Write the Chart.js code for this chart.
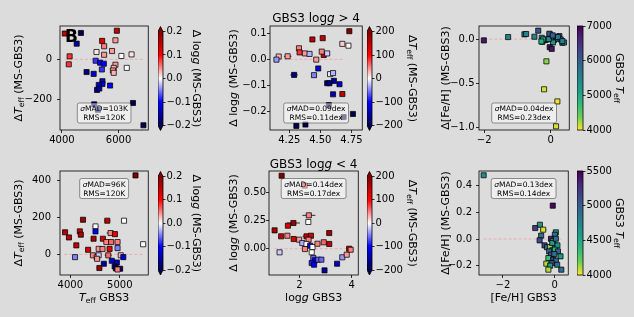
<!DOCTYPE html>
<html>
<head>
<meta charset="utf-8">
<script src="https://cdn.jsdelivr.net/npm/chart.js@4.4.1/dist/chart.umd.min.js"></script>
<style>
  html, body { margin: 0; padding: 0; background: #dcdcdc; }
  #fig { position: relative; width: 634px; height: 317px; overflow: hidden; background: #dcdcdc; }
  #fig canvas { position: absolute; }
</style>
</head>
<body>
<div id="fig"></div>
<script>
// ---- GBS3 logg > 4 (dwarfs) ----
const dwTeff = [4100, 4670, 4520, 5940, 5420, 5890, 5490, 5220, 5490, 5770, 6100, 6460, 4270, 4240, 5190, 5350, 5480, 5890, 5830, 5800,
  5830, 6290, 5410, 4870, 5120, 5430, 5430, 5300, 5700, 5240, 5320, 5140, 5270, 6510, 6880];
const dwDTeff = [130, 133, 79, 144, 93, 96, 66, 37, 23, 42, 17, 25, 15, -25, -7, -17, -22, -27, -43, -56,
  -68, -43, -51, -64, -73, -110, -124, -129, -132, -154, -147, -227, -254, -220, -332];
const dwDLoggCol = [0.15, -0.2, -0.15, 0.15, 0.12, 0.04, 0.05, 0.01, 0.04, 0.04, 0.0, 0.01, 0.08, 0.08, -0.08, -0.1, -0.1, 0.04, 0.03, 0.04,
  0.03, 0.0, -0.08, -0.17, -0.13, -0.12, -0.13, -0.13, -0.1, -0.16, -0.15, -0.17, -0.17, -0.2, -0.2];
const dwTeffErr = [0, 0, 0, 0, 0, 0, 0, 0, 0, 0, 0, 70, 0, 0, 0, 0, 0, 0, 0, 0,
  0, 0, 0, 0, 0, 0, 0, 0, 0, 0, 0, 0, 0, 0, 0];

const dwLogg = [4.733, 4.436, 4.519, 4.677, 4.726, 4.328, 4.333, 4.376, 4.413, 4.527, 4.511, 4.555, 4.237, 4.165, 4.147, 4.467,
  4.483, 4.289, 4.449, 4.578, 4.602, 4.609, 4.555, 4.573, 4.654, 4.602, 4.677, 4.568, 4.762, 4.687, 4.307, 4.380];
const dwDLogg = [0.109, 0.077, 0.082, 0.060, 0.053, 0.043, 0.027, 0.023, 0.021, 0.017, 0.030, 0.023, 0.012, 0.011, -0.001, -0.001,
  -0.035, -0.060, -0.061, -0.057, -0.053, -0.083, -0.092, -0.092, -0.096, -0.135, -0.134, -0.177, -0.211, -0.223, -0.257, -0.252];
const dwDTeffCol = [200, 150, 150, 20, 5, 50, 80, 40, -30, 150, 50, -20, 40, 30, -40, 40,
  -120, -170, -50, -10, -30, -150, -170, -170, -130, -140, 150, -200, -200, -200, -200, -200];
const dwLoggErr = [0, 0, 0, 0.02, 0, 0.015, 0, 0, 0, 0, 0, 0.02, 0.03, 0, 0, 0,
  0.015, 0.03, 0.01, 0, 0, 0, 0, 0, 0, 0, 0, 0, 0, 0, 0, 0];

const dwFeH = [-2.01, -1.28, -0.79, -0.74, -0.49, -0.375, -0.27, -0.25, -0.17, -0.11, -0.03, 0.01, 0.07, 0.10, 0.16, 0.20, 0.26,
  0.30, 0.35, 0.40, 0.07, -0.06, -0.04, 0.06, 0.22, 0.35, -0.23, -0.28, -0.03, 0.03, -0.13, -0.20, 0.20, 0.16];
const dwDFeH = [-0.015, 0.023, 0.054, 0.058, 0.027, 0.096, 0.015, -0.031, -0.011, -0.004, 0.054, 0.027, 0.020, -0.011, 0.020, 0.004, 0.034,
  -0.004, -0.042, -0.038, -0.038, 0.000, 0.061, 0.042, 0.023, -0.023, -0.004, -0.027, -0.092, -0.111, -0.253, -0.571, -0.709, -0.992];
const dwTeffCol = [6800, 5500, 5600, 5500, 5500, 6100, 5400, 4900, 5300, 5600, 6000, 5800, 5700, 5500, 5800, 5600, 5900,
  5500, 5600, 5400, 5300, 5500, 6100, 5900, 5700, 5500, 4900, 4900, 6800, 6800, 4300, 4100, 4050, 4100];
const dwFeHErr = [0, 0, 0, 0, 0, 0, 0, 0, 0, 0, 0, 0, 0, 0, 0, 0, 0,
  0, 0, 0, 0, 0, 0, 0, 0, 0, 0, 0, 0, 0, 0.05, 0.05, 0.05, 0.05];

// ---- GBS3 logg < 4 (giants) ----
const gtTeff = [5316, 4257, 4747, 5084, 3895, 3973, 4193, 4213, 4509, 4509, 4813, 4902, 4470, 4658, 4728, 4825, 4954, 4122, 4360, 4573,
  4650, 4793, 4954, 5470, 4096, 4457, 4534, 4573, 4766, 5018, 5070, 4838, 4677, 4940, 4896, 4921, 5006, 4587, 4954, 4542];
const gtDTeff = [429, 188, 183, 183, 120, 92, 125, 107, 152, 125, 116, 110, 85, 85, 67, 67, 67, 49, 25, 30,
  29, 30, 34, 55, -15, -5, -16, -5, -5, -5, -15, -35, -51, -44, -65, -76, -78, -74, -82, -24];
const gtDLoggCol = [0.2, 0.18, 0.15, 0.0, 0.16, 0.15, 0.14, 0.17, 0.0, -0.1, 0.05, 0.12, 0.17, 0.13, 0.05, 0.06, 0.05, 0.15, 0.13, 0.04,
  0.05, 0.12, -0.05, 0.0, -0.05, 0.05, 0.04, -0.02, 0.06, 0.03, -0.12, -0.12, -0.15, -0.13, -0.18, -0.18, -0.18, 0.18, 0.05, 0.04];
const gtTeffErr = [0, 0, 60, 50, 0, 0, 0, 0, 60, 0, 80, 0, 0, 50, 0, 50, 0, 40, 50, 0,
  0, 0, 0, 0, 0, 0, 0, 0, 70, 0, 0, 0, 50, 0, 0, 0, 0, 50, 0, 0];

const gtLogg = [1.32, 2.36, 2.34, 1.77, 1.56, 1.05, 1.30, 1.54, 1.78, 1.99, 2.27, 2.44, 2.35, 2.11, 2.27, 2.41, 2.50, 2.69, 2.93,
  3.14, 3.14, 1.24, 2.47, 2.53, 2.59, 2.47, 2.56, 2.72, 2.84, 2.96, 3.44, 3.64, 3.81, 3.90, 3.96, 2.21, 2.20];
const gtDLogg = [0.647, 0.296, 0.237, 0.228, 0.204, 0.163, 0.110, 0.115, 0.086, 0.080, 0.110, 0.115, 0.080, 0.050, 0.042, 0.027, 0.015, 0.044, 0.057,
  0.042, 0.139, -0.032, -0.032, -0.082, -0.103, -0.127, -0.142, -0.097, -0.097, -0.192, -0.133, -0.076, -0.053, 0.000, -0.009, -0.003, 0.560];
const gtDTeffCol = [200, 50, 0, 180, 130, 170, 150, 50, 130, 40, 150, 140, 50, -30, 0, -100, 0, 50, 60,
  150, 180, -20, 0, -60, -100, -90, -100, -60, -60, -150, -130, -40, 40, 130, 50, 50, 80];
const gtLoggErr = [0, 0.25, 0, 0.25, 0, 0, 0, 0, 0, 0, 0.15, 0, 0, 0, 0, 0, 0, 0, 0,
  0, 0, 0, 0, 0, 0, 0, 0, 0, 0, 0, 0, 0, 0, 0, 0, 0, 0];

const gtFeH = [-2.75, -0.07, -0.57, -0.75, -0.44, 0.05, 0.01, -0.52, -0.58, -0.14, -0.07, -0.39, -0.29, -0.17, 0.01, 0.11, -0.09,
  0.01, 0.13, -0.21, -0.14, -0.01, 0.23, -0.24, -0.05, 0.05, -0.11, -0.32, 0.10, -0.17, -0.24, 0.26, -0.09, 0.05];
const gtDFeH = [0.478, 0.25, 0.107, 0.082, 0.07, 0.05, 0.032, 0.025, -0.01, 0.002, -0.018, -0.048, -0.062, -0.06, -0.048, -0.048, -0.085,
  -0.08, -0.093, -0.093, -0.117, -0.113, -0.13, -0.143, -0.155, -0.163, -0.18, -0.185, -0.193, -0.2, -0.23, -0.23, -0.03, 0.002];
const gtTeffCol = [4700, 5450, 4600, 5200, 4050, 4600, 4850, 4850, 5100, 5400, 4350, 5150, 4900, 4100, 4900, 4600, 4900,
  4400, 4950, 4900, 5100, 4900, 4600, 4350, 5100, 4900, 5100, 4100, 4900, 4600, 4100, 4900, 4600, 4900];
const gtFeHErr = [0, 0.08, 0, 0.05, 0.12, 0, 0, 0, 0, 0, 0, 0, 0, 0, 0, 0, 0,
  0, 0, 0, 0, 0, 0, 0, 0, 0, 0, 0, 0, 0, 0, 0, 0, 0];

// zero reference lines (x extent)
const dwTeffZero = [4100, 6880];
const dwLoggZero = [4.13, 4.69];
const dwFeHZero = [-2.0, 0.2];
const gtTeffZero = [3880, 5470];
const gtLoggZero = [1.05, 4.0];
const gtFeHZero = [-2.75, 0.3];

// axis limits
const dwTeffLim = [3930, 7050], dwDTeffLim = [-356, 168];
const dwLoggLim = [4.095, 4.837], dwDLoggLim = [-0.273, 0.129];
const dwFeHLim = [-2.156, 0.557], dwDFeHLim = [-1.034, 0.149];
const gtTeffLim = [3793, 5573], gtDTeffLim = [-112, 453];
const gtLoggLim = [0.836, 4.25], gtDLoggLim = [-0.233, 0.689];
const gtFeHLim = [-2.93, 0.53], gtDFeHLim = [-0.27, 0.51];

// tick labels
const dwTeffTicks = [4000, 6000], dwDTeffTicks = [-200, 0];
const dwLoggTicks = [4.25, 4.5, 4.75], dwDLoggTicks = [-0.2, -0.1, 0, 0.1];
const dwFeHTicks = [-2, 0], dwDFeHTicks = [-1, -0.5, 0];
const gtTeffTicks = [4000, 5000], gtDTeffTicks = [0, 200, 400];
const gtLoggTicks = [2, 4], gtDLoggTicks = [0, 0.25, 0.5];
const gtFeHTicks = [-2, 0], gtDFeHTicks = [-0.2, 0, 0.2, 0.4];
const cbLoggTicks = [-0.2, -0.1, 0, 0.1, 0.2];
const cbDTeffTicks = [-200, -100, 0, 100, 200];
const cbTeffDwTicks = [4000, 5000, 6000, 7000];
const cbTeffGtTicks = [4000, 4500, 5000, 5500];

// stats boxes
const statsDwTeff = ['σMAD=103K', 'RMS=120K'];
const statsDwLogg = ['σMAD=0.09dex', 'RMS=0.11dex'];
const statsDwFeH = ['σMAD=0.04dex', 'RMS=0.23dex'];
const statsGtTeff = ['σMAD=96K', 'RMS=120K'];
const statsGtLogg = ['σMAD=0.14dex', 'RMS=0.17dex'];
const statsGtFeH = ['σMAD=0.13dex', 'RMS=0.14dex'];

const FAM = '"DejaVu Sans", sans-serif';
const TICK_FONT = { family: FAM, size: 10 };
const LABEL = 11;
const STAT = 7.5;

function lerpStops(stops, t) {
  t = Math.max(0, Math.min(1, t));
  for (let i = 1; i < stops.length; i++) {
    if (t <= stops[i][0]) {
      const [t0, c0] = stops[i - 1], [t1, c1] = stops[i];
      const f = (t - t0) / (t1 - t0);
      return 'rgb(' + c0.map((c, k) => Math.round(c + (c1[k] - c) * f)).join(',') + ')';
    }
  }
}
const SEISMIC = [[0, [0, 0, 77]], [0.25, [0, 0, 255]], [0.5, [255, 255, 255]], [0.75, [255, 0, 0]], [1, [128, 0, 0]]];
const VIRIDIS = [[0, [68, 1, 84]], [0.125, [72, 40, 120]], [0.25, [62, 73, 137]], [0.375, [49, 104, 142]], [0.5, [38, 130, 142]],
  [0.625, [31, 158, 137]], [0.75, [53, 183, 121]], [0.875, [110, 206, 88]], [1, [253, 231, 37]]];
const seismic = t => lerpStops(SEISMIC, t);
const viridisR = t => lerpStops(VIRIDIS, 1 - t);

function drawRich(ctx, segs, x, y, size, rot) {
  ctx.save();
  ctx.translate(x, y);
  ctx.rotate(rot || 0);
  ctx.fillStyle = '#000';
  ctx.textBaseline = 'alphabetic';
  ctx.textAlign = 'left';
  const parts = segs.map(s => {
    const fs = s.sub ? size * 0.7 : size;
    const font = (s.it ? 'italic ' : '') + (s.bold ? 'bold ' : '') + fs + 'px ' + FAM;
    ctx.font = font;
    return { t: s.t, font, w: ctx.measureText(s.t).width, dy: s.sub ? size * 0.22 : 0 };
  });
  let cx = -parts.reduce((a, p) => a + p.w, 0) / 2;
  parts.forEach(p => { ctx.font = p.font; ctx.fillText(p.t, cx, size * 0.36 + p.dy); cx += p.w; });
  ctx.restore();
}
const richLine = s => s.startsWith('σ') ? [{ t: 'σ', it: true }, { t: s.slice(1) }] : [{ t: s }];

const segDTeff = [{ t: 'Δ' }, { t: 'T', it: true }, { t: 'eff', sub: true }, { t: ' (MS-GBS3)' }];
const segDLogg = [{ t: 'Δ log' }, { t: 'g', it: true }, { t: ' (MS-GBS3)' }];
const segDFeH = [{ t: 'Δ[Fe/H] (MS-GBS3)' }];
const segTeff = [{ t: 'T', it: true }, { t: 'eff', sub: true }, { t: ' GBS3' }];
const segLogg = [{ t: 'log' }, { t: 'g', it: true }, { t: ' GBS3' }];
const segFeH = [{ t: '[Fe/H] GBS3' }];
const segTeffCb = [{ t: 'GBS3 ' }, { t: 'T', it: true }, { t: 'eff', sub: true }];

const fixedTicks = vals => s => { s.ticks = vals.map(v => ({ value: v })); };
const fmt = d => v => v.toFixed(d).replace('-', '\u2212');

function addCanvas(c) {
  const cv = document.createElement('canvas');
  cv.width = c[2]; cv.height = c[3];
  cv.style.left = c[0] + 'px'; cv.style.top = c[1] + 'px';
  document.getElementById('fig').appendChild(cv);
  return cv;
}

function scatterPanel(p) {
  const [cl, ct, cw, ch] = p.canvas;
  const [fl, ft, fr, fb] = p.frame;
  const cv = addCanvas(p.canvas);
  const [c0, c1] = p.crange;
  const cols = p.cs.map(v => p.cmap((v - c0) / (c1 - c0)));
  const axisCommon = { type: 'linear', border: { display: false },
    grid: { drawOnChartArea: false, tickLength: 3, color: '#000', lineWidth: 0.8 } };
  new Chart(cv, {
    type: 'scatter',
    data: {
      datasets: [
        { data: p.xs.map((x, i) => ({ x, y: p.ys[i] })), pointStyle: 'rect', pointRadius: 3.6,
          pointBackgroundColor: cols, pointBorderColor: '#000', pointBorderWidth: 0.75 },
        { type: 'line', data: p.zero.map(x => ({ x, y: 0 })), borderColor: 'rgba(255,110,130,0.45)',
          borderWidth: 1, borderDash: [3, 2], pointRadius: 0 }
      ]
    },
    options: {
      responsive: false, animation: false, events: [],
      layout: { padding: { left: 0, top: ft - ct, right: cl + cw - fr, bottom: 0 } },
      plugins: { legend: { display: false }, tooltip: { enabled: false } },
      scales: {
        x: { ...axisCommon, min: p.xlim[0], max: p.xlim[1],
          afterFit: s => { s.height = ct + ch - fb; s.paddingLeft = 0; s.paddingRight = 0; },
          afterBuildTicks: fixedTicks(p.xt),
          ticks: { font: TICK_FONT, color: '#000', padding: 1, maxRotation: 0, minRotation: 0, autoSkip: false, callback: fmt(p.xd) } },
        y: { ...axisCommon, min: p.ylim[0], max: p.ylim[1],
          afterFit: s => { s.width = fl - cl; s.paddingTop = 0; s.paddingBottom = 0; },
          afterBuildTicks: fixedTicks(p.yt),
          ticks: { font: TICK_FONT, color: '#000', padding: p.ypad, autoSkip: false, callback: fmt(p.yd) } }
      }
    },
    plugins: [{
      id: 'decor',
      beforeDatasetsDraw(chart) {
        const { ctx, scales: { x, y } } = chart;
        ctx.save();
        ctx.strokeStyle = '#000';
        ctx.lineWidth = 0.8;
        p.xs.forEach((xv, i) => {
          const e = p.err[i];
          if (!e) return;
          const py = y.getPixelForValue(p.ys[i]);
          ctx.beginPath();
          ctx.moveTo(x.getPixelForValue(xv - e), py);
          ctx.lineTo(x.getPixelForValue(xv + e), py);
          ctx.stroke();
        });
        ctx.restore();
      },
      afterDatasetsDraw(chart) {
        const { ctx, chartArea: a } = chart;
        ctx.save();
        ctx.strokeStyle = '#000';
        ctx.lineWidth = 0.8;
        ctx.strokeRect(a.left, a.top, a.right - a.left, a.bottom - a.top);
        // stats box
        ctx.font = STAT + 'px ' + FAM;
        const w = Math.max(...p.stats.map(s => ctx.measureText(s).width)) + 6;
        const h = 20;
        const bx = (a.left + a.right) / 2 - w / 2;
        const by = p.statsAt === 'bottom' ? a.bottom - 7 - h : a.top + 7.5;
        ctx.beginPath();
        ctx.roundRect(bx, by, w, h, 2);
        ctx.fillStyle = 'rgba(255,255,255,0.5)';
        ctx.fill();
        ctx.strokeStyle = 'rgba(0,0,0,0.5)';
        ctx.stroke();
        ctx.restore();
        p.stats.forEach((s, i) => drawRich(ctx, richLine(s), (a.left + a.right) / 2, by + 5.6 + i * 8.9, STAT, 0));
        if (p.letter) {
          ctx.save();
          ctx.font = 'bold 17px ' + FAM;
          ctx.fillStyle = '#000';
          ctx.fillText(p.letter, 65 - cl, 42 - ct);
          ctx.restore();
        }
      },
      afterDraw(chart) {
        const { ctx, chartArea: a } = chart;
        const midX = (a.left + a.right) / 2, midY = (a.top + a.bottom) / 2;
        drawRich(ctx, p.yTitle, p.yTitleX - cl, midY, LABEL, -Math.PI / 2);
        if (p.xTitle) drawRich(ctx, p.xTitle, midX, 297 - ct, LABEL, 0);
        if (p.title) drawRich(ctx, p.title, midX, p.titleY - ct, 12, 0);
      }
    }]
  });
}

function colorBar(c) {
  const [cl, ct, cw, ch] = c.canvas;
  const [bl, bt, br, bb] = c.bar;
  const cv = addCanvas(c.canvas);
  const [r0, r1] = c.range;
  new Chart(cv, {
    type: 'scatter',
    data: { datasets: [{ data: [] }] },
    options: {
      responsive: false, animation: false, events: [],
      layout: { padding: { left: bl - cl, top: bt - ct, right: 0, bottom: ct + ch - bb } },
      plugins: { legend: { display: false }, tooltip: { enabled: false } },
      scales: {
        x: { display: false, min: 0, max: 1 },
        y: { position: 'right', min: r0, max: r1, border: { display: false },
          afterFit: s => { s.width = cl + cw - br; s.paddingTop = 0; s.paddingBottom = 0; },
          afterBuildTicks: fixedTicks(c.ticks),
          ticks: { font: TICK_FONT, color: '#000', padding: 1, autoSkip: false, callback: fmt(c.dec) },
          grid: { drawOnChartArea: false, tickLength: 2.5, color: '#000', lineWidth: 0.8 } }
      }
    },
    plugins: [{
      id: 'cbar',
      afterDraw(chart) {
        const { ctx, chartArea: a, scales: { y } } = chart;
        ctx.save();
        for (let py = Math.floor(a.top); py < Math.ceil(a.bottom); py++) {
          const v = y.getValueForPixel(py + 0.5);
          ctx.fillStyle = c.cmap((v - r0) / (r1 - r0));
          ctx.fillRect(a.left, py, a.right - a.left, 1);
        }
        const mid = (a.left + a.right) / 2;
        ctx.beginPath();
        if (c.ext) {
          ctx.fillStyle = c.cmap(1);
          ctx.beginPath(); ctx.moveTo(a.left, a.top); ctx.lineTo(mid, a.top - c.ext); ctx.lineTo(a.right, a.top); ctx.closePath(); ctx.fill();
          ctx.fillStyle = c.cmap(0);
          ctx.beginPath(); ctx.moveTo(a.left, a.bottom); ctx.lineTo(mid, a.bottom + c.ext); ctx.lineTo(a.right, a.bottom); ctx.closePath(); ctx.fill();
          ctx.beginPath();
          ctx.moveTo(a.left, a.top); ctx.lineTo(mid, a.top - c.ext); ctx.lineTo(a.right, a.top);
          ctx.lineTo(a.right, a.bottom); ctx.lineTo(mid, a.bottom + c.ext); ctx.lineTo(a.left, a.bottom); ctx.closePath();
        } else {
          ctx.rect(a.left, a.top, a.right - a.left, a.bottom - a.top);
        }
        ctx.strokeStyle = '#000';
        ctx.lineWidth = 0.8;
        ctx.stroke();
        ctx.restore();
        drawRich(ctx, c.title, c.titleX - cl, (a.top + a.bottom) / 2, LABEL, Math.PI / 2);
      }
    }]
  });
}

const LOGG_RANGE = [-0.2, 0.2], DTEFF_RANGE = [-200, 200];

scatterPanel({ canvas: [0, 0, 153, 150], frame: [60, 26, 152, 130], xs: dwTeff, ys: dwDTeff, cs: dwDLoggCol, err: dwTeffErr,
  cmap: seismic, crange: LOGG_RANGE, xlim: dwTeffLim, ylim: dwDTeffLim, xt: dwTeffTicks, yt: dwDTeffTicks, xd: 0, yd: 0, ypad: 5,
  zero: dwTeffZero, stats: statsDwTeff, statsAt: 'bottom', yTitle: segDTeff, yTitleX: 18, letter: 'B' });
scatterPanel({ canvas: [222, 0, 145, 150], frame: [270, 26, 366, 130], xs: dwLogg, ys: dwDLogg, cs: dwDTeffCol, err: dwLoggErr,
  cmap: seismic, crange: DTEFF_RANGE, xlim: dwLoggLim, ylim: dwDLoggLim, xt: dwLoggTicks, yt: dwDLoggTicks, xd: 2, yd: 1, ypad: 0.5,
  zero: dwLoggZero, stats: statsDwLogg, statsAt: 'bottom', yTitle: segDLogg, yTitleX: 233,
  title: [{ t: 'GBS3 log' }, { t: 'g', it: true }, { t: ' > 4' }], titleY: 18 });
scatterPanel({ canvas: [430, 0, 144, 150], frame: [479, 26, 573, 130], xs: dwFeH, ys: dwDFeH, cs: dwTeffCol, err: dwFeHErr,
  cmap: viridisR, crange: [4000, 7000], xlim: dwFeHLim, ylim: dwDFeHLim, xt: dwFeHTicks, yt: dwDFeHTicks, xd: 0, yd: 1, ypad: 1.5,
  zero: dwFeHZero, stats: statsDwFeH, statsAt: 'bottom', yTitle: segDFeH, yTitleX: 445 });

scatterPanel({ canvas: [0, 145, 153, 172], frame: [60, 171, 152, 275], xs: gtTeff, ys: gtDTeff, cs: gtDLoggCol, err: gtTeffErr,
  cmap: seismic, crange: LOGG_RANGE, xlim: gtTeffLim, ylim: gtDTeffLim, xt: gtTeffTicks, yt: gtDTeffTicks, xd: 0, yd: 0, ypad: 6,
  zero: gtTeffZero, stats: statsGtTeff, statsAt: 'top', yTitle: segDTeff, yTitleX: 18, xTitle: segTeff });
scatterPanel({ canvas: [222, 145, 141, 172], frame: [269, 171, 362, 275], xs: gtLogg, ys: gtDLogg, cs: gtDTeffCol, err: gtLoggErr,
  cmap: seismic, crange: DTEFF_RANGE, xlim: gtLoggLim, ylim: gtDLoggLim, xt: gtLoggTicks, yt: gtDLoggTicks, xd: 0, yd: 2, ypad: 0,
  zero: gtLoggZero, stats: statsGtLogg, statsAt: 'top', yTitle: segDLogg, yTitleX: 233, xTitle: segLogg,
  title: [{ t: 'GBS3 log' }, { t: 'g', it: true }, { t: ' < 4' }], titleY: 164 });
scatterPanel({ canvas: [430, 145, 143, 172], frame: [479, 171, 572, 275], xs: gtFeH, ys: gtDFeH, cs: gtTeffCol, err: gtFeHErr,
  cmap: viridisR, crange: [4000, 5500], xlim: gtFeHLim, ylim: gtDFeHLim, xt: gtFeHTicks, yt: gtDFeHTicks, xd: 0, yd: 1, ypad: 4,
  zero: gtFeHZero, stats: statsGtFeH, statsAt: 'top', yTitle: segDFeH, yTitleX: 445, xTitle: segFeH });

colorBar({ canvas: [158, 0, 52, 150], bar: [158, 31.5, 163, 125.5], ext: 5, range: LOGG_RANGE, ticks: cbLoggTicks, dec: 1,
  cmap: seismic, title: segDLogg, titleX: 197 });
colorBar({ canvas: [367, 0, 58, 150], bar: [367, 31.5, 372, 125.5], ext: 5, range: DTEFF_RANGE, ticks: cbDTeffTicks, dec: 0,
  cmap: seismic, title: segDTeff, titleX: 413 });
colorBar({ canvas: [577, 0, 57, 150], bar: [577, 26, 583, 130], ext: 0, range: [4000, 7000], ticks: cbTeffDwTicks, dec: 0,
  cmap: viridisR, title: segTeffCb, titleX: 620 });
colorBar({ canvas: [158, 145, 52, 172], bar: [158, 176.5, 163, 270], ext: 5, range: LOGG_RANGE, ticks: cbLoggTicks, dec: 1,
  cmap: seismic, title: segDLogg, titleX: 197 });
colorBar({ canvas: [367, 145, 58, 172], bar: [367, 176.5, 372, 270], ext: 5, range: DTEFF_RANGE, ticks: cbDTeffTicks, dec: 0,
  cmap: seismic, title: segDTeff, titleX: 413 });
colorBar({ canvas: [577, 145, 57, 172], bar: [577, 171, 583, 275], ext: 0, range: [4000, 5500], ticks: cbTeffGtTicks, dec: 0,
  cmap: viridisR, title: segTeffCb, titleX: 620 });
</script>
</body>
</html>
